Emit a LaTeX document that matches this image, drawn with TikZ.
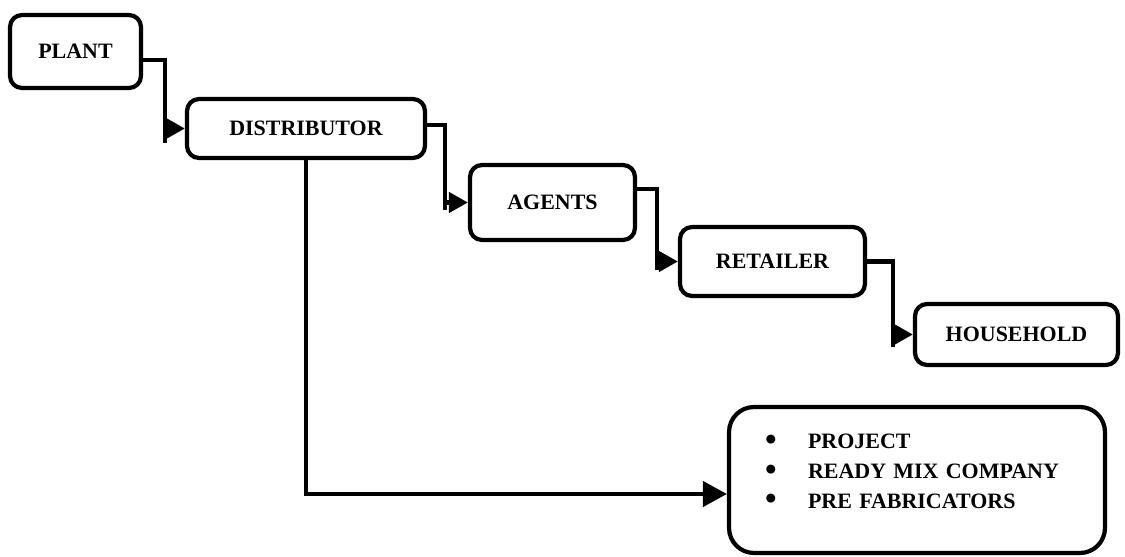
\documentclass[tikz,border=0pt]{standalone}
\usepackage{fontspec}
\usepackage{graphicx}
\setmainfont{Liberation Serif}
\usetikzlibrary{arrows.meta,positioning}

\newcommand{\dotitem}{\makebox[0.86cm][l]{\raisebox{-0.03cm}{\scalebox{1.5}{\textbullet}}}}

\begin{document}
\begin{tikzpicture}[x=0.02cm,y=-0.02cm,
stage/.style={rectangle, rounded corners=0.24cm, draw=black, line width=2.4pt, fill=white,
  font=\fontsize{12.5}{15}\selectfont\bfseries, inner sep=0pt},
link/.style={line width=2.4pt},
tip/.style={line width=2.4pt, -{Triangle[length=0.38cm,width=0.4cm]}},
bigtip/.style={line width=2.4pt, -{Triangle[length=0.48cm,width=0.5cm]}},
]
\useasboundingbox (0,0) rectangle (1125,557);
%Nodes
\node[stage, minimum width=2.62cm, minimum height=1.46cm] (plant)       at (75.5,51.5)   {PLANT};
\node[stage, minimum width=4.76cm, minimum height=1.18cm] (distributor) at (306,128.5)   {DISTRIBUTOR};
\node[stage, minimum width=3.3cm,  minimum height=1.5cm]  (agents)      at (552.5,202.5) {AGENTS};
\node[stage, minimum width=3.7cm,  minimum height=1.38cm] (retailer)    at (772.5,261.5) {RETAILER};
\node[stage, minimum width=4.06cm, minimum height=1.22cm] (household)   at (1016.5,334.5) {HOUSEHOLD};
\node[stage, rounded corners=0.5cm, minimum width=7.52cm, minimum height=2.92cm,
      text width=6.08cm, align=left, inner xsep=0.72cm,
      font=\fontsize{12.5}{17}\selectfont\bfseries] (projects) at (917,480)
  {\dotitem PROJECT\\
   \dotitem READY MIX COMPANY\\
   \dotitem PRE FABRICATORS\par\kern0.32cm};

%Lines
\draw[link] ([yshift=-0.17cm]plant.east) -- ++(22,0) coordinate (b1) -- (b1 |- distributor.west) -- ++(0,15);
\draw[tip] (b1 |- distributor.west) -- (distributor.west);

\draw[link] ([yshift=0.07cm]distributor.east) -- ++(18,0) coordinate (b2) -- (b2 |- agents.west) -- ++(0,8);
\draw[tip] (b2 |- agents.west) -- (agents.west);

\draw[link] ([yshift=0.27cm]agents.east) -- ++(20,0) coordinate (b3) -- (b3 |- retailer.west) -- ++(0,8);
\draw[tip] (b3 |- retailer.west) -- (retailer.west);

\draw[link] (retailer.east) -- ++(26,0) coordinate (b4) -- (b4 |- household.west) -- ++(0,12);
\draw[tip] (b4 |- household.west) -- (household.west);

\draw[bigtip] (distributor.south) |- ([yshift=-0.28cm]projects.west);
\end{tikzpicture}
\end{document}
